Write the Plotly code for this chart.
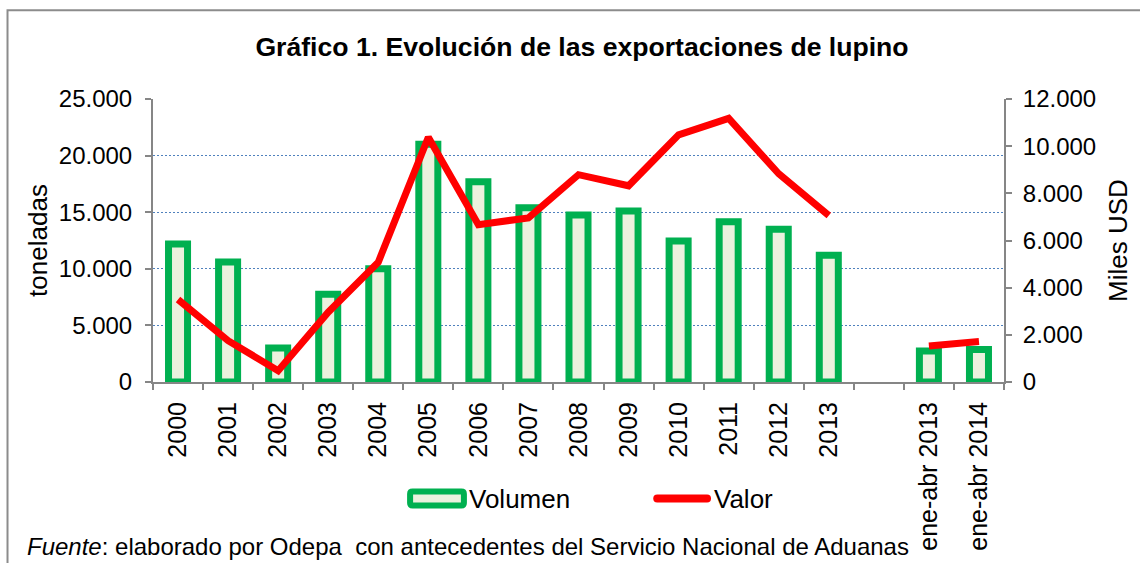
import plotly.graph_objects as go

# ---- data ----
categories = ["2000", "2001", "2002", "2003", "2004", "2005", "2006", "2007",
              "2008", "2009", "2010", "2011", "2012", "2013", " ",
              "ene-abr 2013", "ene-abr 2014"]
volumen = [12200, 10600, 3000, 7750, 10000, 21000, 17700, 15400,
           14750, 15100, 12450, 14150, 13500, 11200, None, 2730, 2860]
valor = [3500, 1750, 480, 2960, 5080, 10380, 6670, 6960,
         8790, 8320, 10480, 11180, 8830, 7060, None, 1530, 1720]

series_names = ["Volumen", "Valor"]
title_text = "Gráfico 1. Evolución de las exportaciones de lupino"
source_text = "<i>Fuente</i>: elaborado por Odepa&nbsp; con antecedentes del Servicio Nacional de Aduanas"

# ---- layout geometry (pixels) ----
W, H = 1140, 563
L, R, T, B = 153, 1007, 99, 383
pw, ph = R - L, B - T


def px_x(x):
    return (x - L) / pw


def px_y(y):
    return (B - y) / ph


def pt(x, y):
    return f"{px_x(x):.5f},{px_y(y):.5f}"


FONT = "Liberation Sans, Arial, sans-serif"
GRAY = "#868686"
GREEN = "#00B050"
FILL = "#EBF1DE"
RED = "#FF0000"
GRID = "#4F81BD"

fig = go.Figure()
fig.add_trace(go.Bar(
    x=categories, y=volumen, name=series_names[0], width=0.38,
    marker=dict(color=FILL, line=dict(color=GREEN, width=7)),
    yaxis="y", showlegend=False,
))
fig.add_trace(go.Scatter(
    x=categories, y=valor, name=series_names[1], mode="lines",
    line=dict(color=RED, width=7),
    connectgaps=False, yaxis="y2", showlegend=False,
))

fig.update_layout(
    width=W, height=H,
    margin=dict(l=L, r=W - R, t=T, b=H - B, pad=0),
    paper_bgcolor="white", plot_bgcolor="white",
    separators=",.",
    font=dict(family=FONT, size=24, color="black"),
    showlegend=False,
    title=dict(text="<b>" + title_text + "</b>", font=dict(size=26.6, family=FONT, color="black"),
               xref="paper", x=px_x(583.5), xanchor="center",
               yref="container", y=1 - 47 / H, yanchor="middle"),
    xaxis=dict(
        type="category", categoryorder="array", categoryarray=categories,
        showline=True, linecolor=GRAY, linewidth=2,
        ticks="outside", tickson="boundaries", ticklen=6, tickcolor=GRAY, tickwidth=1.5,
        tickangle=-90, tickfont=dict(size=25), ticklabelstandoff=8,
        showgrid=False, zeroline=False,
    ),
    yaxis=dict(
        range=[0, 25000], tickvals=[0, 5000, 10000, 15000, 20000, 25000],
        tickformat=",d",
        showline=True, linecolor=GRAY, linewidth=2,
        ticks="outside", ticklen=6, tickcolor=GRAY, tickwidth=1.5,
        ticklabelstandoff=8,
        showgrid=True, gridcolor=GRID, griddash="2px,2px", gridwidth=1,
        zeroline=False,
        title=dict(text="toneladas", font=dict(size=26), standoff=4),
    ),
    yaxis2=dict(
        range=[0, 12000], tickvals=[0, 2000, 4000, 6000, 8000, 10000, 12000],
        tickformat=",d", overlaying="y", side="right",
        showline=True, linecolor=GRAY, linewidth=2,
        ticks="outside", ticklen=6, tickcolor=GRAY, tickwidth=1.5,
        ticklabelstandoff=6,
        showgrid=False, zeroline=False,
        title=dict(text="Miles USD", font=dict(size=26), standoff=14),
    ),
)

# chart frame
fig.add_shape(type="rect", xref="paper", yref="paper",
              x0=px_x(7), x1=px_x(1150), y0=px_y(575), y1=px_y(10),
              line=dict(color="#8C8C8C", width=2), fillcolor="rgba(0,0,0,0)", layer="below")

# custom legend (wide symbols like the original)
r = 2.5
x0, x1, y0, y1 = 411, 465, 493, 507
box = (f"M {pt(x0 + r, y0)} L {pt(x1 - r, y0)} Q {pt(x1, y0)} {pt(x1, y0 + r)} "
       f"L {pt(x1, y1 - r)} Q {pt(x1, y1)} {pt(x1 - r, y1)} "
       f"L {pt(x0 + r, y1)} Q {pt(x0, y1)} {pt(x0, y1 - r)} "
       f"L {pt(x0, y0 + r)} Q {pt(x0, y0)} {pt(x0 + r, y0)} Z")
fig.add_shape(type="path", xref="paper", yref="paper", path=box,
              line=dict(color=GREEN, width=6), fillcolor=FILL)
fig.add_annotation(text=series_names[0], xref="paper", yref="paper",
                   x=px_x(468), xanchor="left", y=px_y(500), yanchor="middle",
                   showarrow=False, font=dict(size=26, family=FONT, color="black"))

lx0, lx1, ly0, ly1 = 655, 713, 496, 504
rr = 4
stadium = (f"M {pt(lx0 + rr, ly0)} L {pt(lx1 - rr, ly0)} Q {pt(lx1, ly0)} {pt(lx1, ly0 + rr)} "
           f"Q {pt(lx1, ly1)} {pt(lx1 - rr, ly1)} L {pt(lx0 + rr, ly1)} "
           f"Q {pt(lx0, ly1)} {pt(lx0, ly1 - rr)} Q {pt(lx0, ly0)} {pt(lx0 + rr, ly0)} Z")
fig.add_shape(type="path", xref="paper", yref="paper", path=stadium,
              line=dict(width=0), fillcolor=RED)
fig.add_annotation(text=series_names[1], xref="paper", yref="paper",
                   x=px_x(714), xanchor="left", y=px_y(500), yanchor="middle",
                   showarrow=False, font=dict(size=26, family=FONT, color="black"))

fig.add_annotation(text=source_text, xref="paper", yref="paper",
                   x=px_x(25), xanchor="left", y=px_y(548), yanchor="middle",
                   showarrow=False, font=dict(size=24, family=FONT, color="black"))

fig.write_html("out.html", config={"displayModeBar": False},
               post_script="document.body.style.margin='0';")
